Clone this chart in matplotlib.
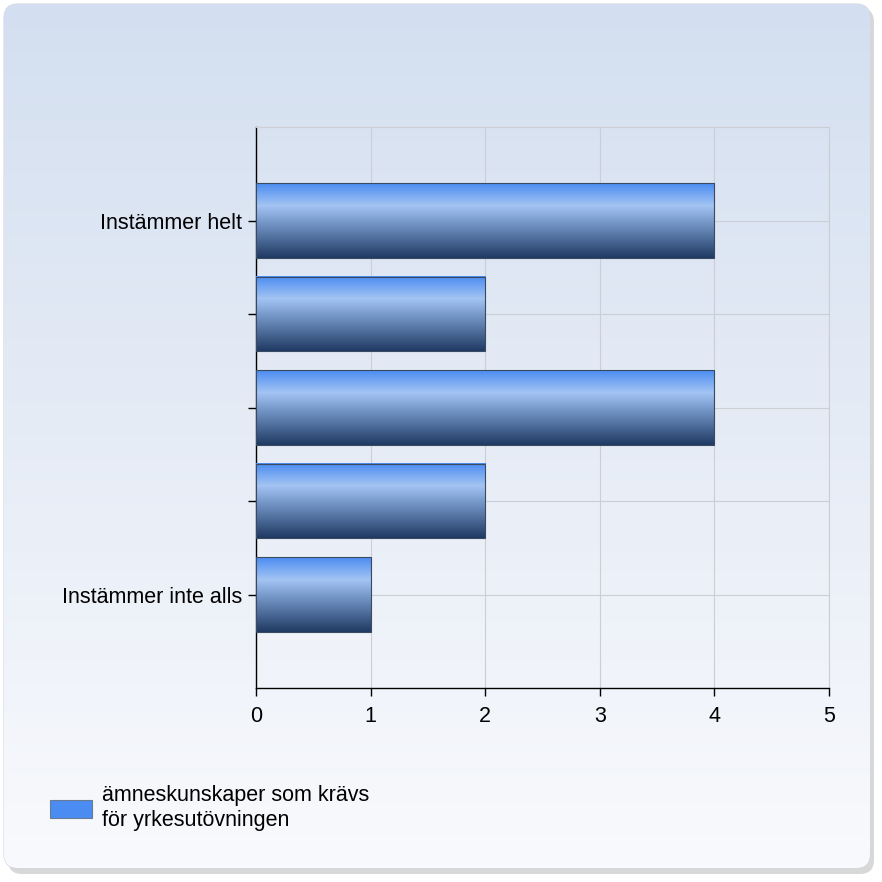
import numpy as np
import matplotlib.pyplot as plt
from matplotlib.patches import FancyBboxPatch, Rectangle
from matplotlib.colors import LinearSegmentedColormap

categories = ["Instämmer helt", "", "", "", "Instämmer inte alls"]
values = [4, 2, 4, 2, 1]
series_name = "ämneskunskaper som krävs\nför yrkesutövningen"
x_ticks = [0, 1, 2, 3, 4, 5]

plt.rcParams['font.family'] = ['Liberation Sans', 'DejaVu Sans']

fig = plt.figure(figsize=(8.82, 8.82), dpi=100)
fig.patch.set_facecolor('white')

# background panel with rounded corners and a soft shadow
bg = fig.add_axes([0, 0, 1, 1], zorder=0)
bg.set_xlim(0, 882)
bg.set_ylim(882, 0)
bg.axis('off')
shadow = FancyBboxPatch((8, 8), 866, 866, boxstyle="round,pad=0,rounding_size=14",
                        facecolor='#c8c8c8', edgecolor='none', alpha=0.7)
bg.add_patch(shadow)
panel = FancyBboxPatch((4, 4), 866, 864, boxstyle="round,pad=0,rounding_size=14",
                       facecolor='none', edgecolor='#d0d6de', lw=0.8)
bg.add_patch(panel)
bg_cmap = LinearSegmentedColormap.from_list('bg', ['#d3dff0', '#e6ecf6', '#f9fafd'])
grad = np.linspace(0, 1, 256).reshape(-1, 1)
im = bg.imshow(grad, cmap=bg_cmap, extent=[4, 870, 868, 4], aspect='auto', zorder=1)
im.set_clip_path(panel)

ax = fig.add_axes([256 / 882, 1 - 688 / 882, 573 / 882, 561 / 882], zorder=2)
ax.set_facecolor('none')

y = np.arange(len(categories))
bar_h = 0.8
bar_cmap = LinearSegmentedColormap.from_list(
    'bar', [(0, '#4a8cf2'), (0.3, '#a3c4f3'), (0.55, '#7193c4'), (1, '#1f3a63')])
bgrad = np.linspace(0, 1, 256).reshape(-1, 1)
for yi, v in zip(y, values):
    ax.imshow(bgrad, cmap=bar_cmap, extent=[0, v, yi + bar_h / 2, yi - bar_h / 2],
              origin='upper', aspect='auto', zorder=3)
    ax.add_patch(Rectangle((0, yi - bar_h / 2), v, bar_h, facecolor='none',
                           edgecolor='#3a4a60', lw=0.8, zorder=4))

ax.set_xlim(0, 5)
ax.set_ylim(5, -1)
ax.set_aspect('auto')
ax.set_xticks(x_ticks)
ax.set_yticks(y)
ax.set_yticklabels(categories, va='center_baseline')
ax.tick_params(axis='both', labelsize=15.5, length=6, width=1, color='black')
ax.tick_params(axis='y', pad=4)
ax.tick_params(axis='x', pad=7)
ax.grid(True, color='#cbced3', lw=0.8, zorder=1)
ax.set_axisbelow(True)
for s in ['top', 'right']:
    ax.spines[s].set_color('#cbced3')
    ax.spines[s].set_linewidth(0.8)
for s in ['left', 'bottom']:
    ax.spines[s].set_color('black')
    ax.spines[s].set_linewidth(1)

# legend
fig.patches.append(Rectangle((50 / 882, 1 - 818 / 882), 42 / 882, 18 / 882,
                             transform=fig.transFigure, facecolor='#4a8cf2',
                             edgecolor='#6a7a90', lw=0.8, zorder=5))
fig.text(102 / 882, 1 - 808 / 882, series_name, fontsize=15.5, va='center',
         ha='left', linespacing=1.25, zorder=5)

fig.savefig('out.png', dpi=100)
